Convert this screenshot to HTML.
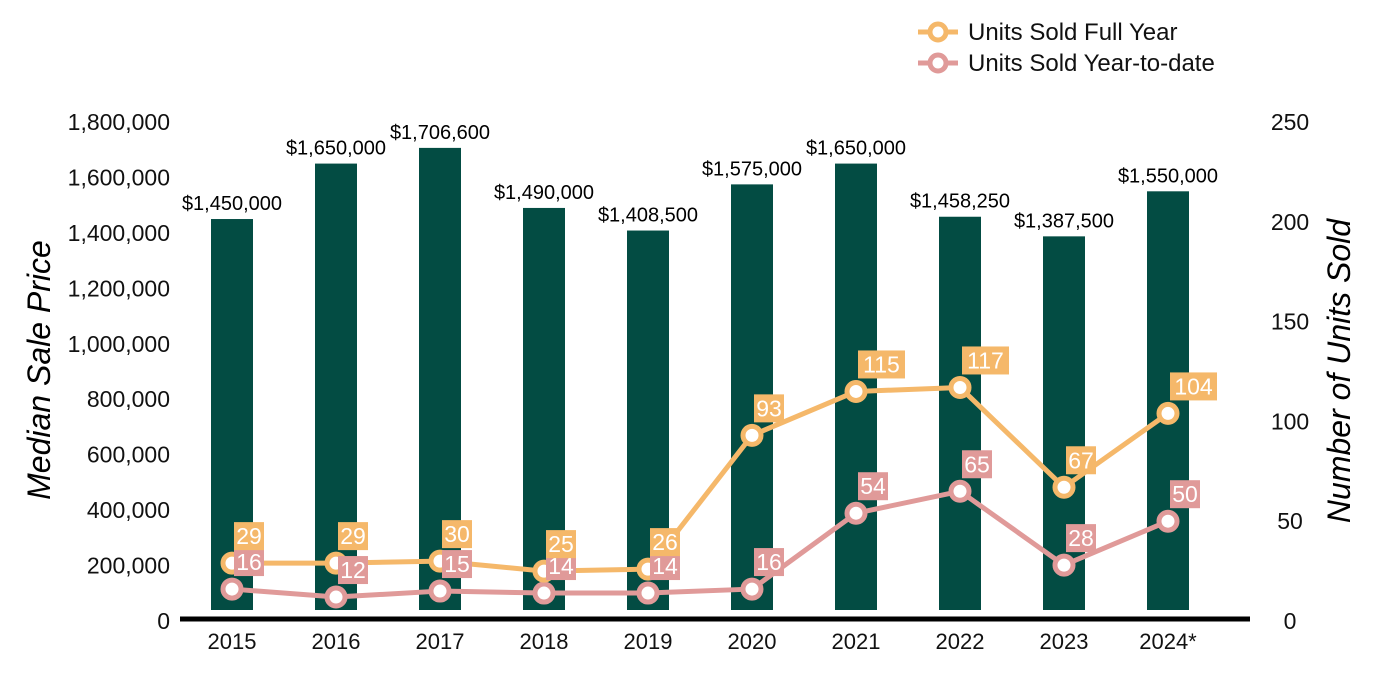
<!DOCTYPE html>
<html><head><meta charset="utf-8"><style>
html,body{margin:0;padding:0;background:#fff;}
svg{display:block;font-family:"Liberation Sans",Arial,sans-serif;}
</style></head><body>
<svg id="chart" width="1400" height="700" viewBox="0 0 1400 700"></svg>
<script>
const categories=["2015","2016","2017","2018","2019","2020","2021","2022","2023","2024*"];
const prices=[1450000,1650000,1706600,1490000,1408500,1575000,1650000,1458250,1387500,1550000];
const priceLabels=["$1,450,000","$1,650,000","$1,706,600","$1,490,000","$1,408,500","$1,575,000","$1,650,000","$1,458,250","$1,387,500","$1,550,000"];
const fullYear=[29,29,30,25,26,93,115,117,67,104];
const ytd=[16,12,15,14,14,16,54,65,28,50];
const leftTicks=[0,200000,400000,600000,800000,1000000,1200000,1400000,1600000,1800000];
const rightTicks=[0,50,100,150,200,250];

const NS="http://www.w3.org/2000/svg";
const svg=document.getElementById('chart');
const Y0=621,YT=122;
const yL=v=>Y0-(v/1800000)*(Y0-YT);
const yR=v=>Y0-(v/250)*(Y0-YT);
const xC=i=>232+i*104;
function mk(tag,attrs,parent){const e=document.createElementNS(NS,tag);for(const k in attrs)e.setAttribute(k,attrs[k]);(parent||svg).appendChild(e);return e;}
const fmt=n=>n.toLocaleString('en-US');

leftTicks.forEach(t=>{const e=mk('text',{x:170,y:yL(t)+8,'text-anchor':'end','font-size':23,fill:'#111'});


e.textContent=fmt(t);});
rightTicks.forEach(t=>{const e=mk('text',{x:1290,y:yR(t)+8,'text-anchor':'middle','font-size':23,fill:'#111'});


e.textContent=t;});
let t1=mk('text',{x:0,y:0,transform:'translate(50,370) rotate(-90)','text-anchor':'middle','font-size':32,'font-style':'italic',fill:'#000'});


t1.textContent='Median Sale Price';
let t2=mk('text',{x:0,y:0,transform:'translate(1350,371) rotate(-90)','text-anchor':'middle','font-size':32,'font-style':'italic',fill:'#000'});


t2.textContent='Number of Units Sold';

const BB=610;
prices.forEach((p,i)=>{const top=yL(p);
const r=mk('rect',{x:xC(i)-21,y:top,width:42,height:BB-top,fill:'#034C43'});


const l=mk('text',{x:xC(i),y:top-9,'text-anchor':'middle','font-size':20,fill:'#000'});


l.textContent=priceLabels[i];});
const ax=mk('line',{x1:180,x2:1250,y1:619,y2:619,stroke:'#000','stroke-width':5});


categories.forEach((c,i)=>{const e=mk('text',{x:xC(i),y:649,'text-anchor':'middle','font-size':22,fill:'#111'});


e.textContent=c;});

function series(vals,color,name){
const pts=vals.map((v,i)=>xC(i)+','+yR(v)).join(' ');
const pl=mk('polyline',{points:pts,fill:'none',stroke:color,'stroke-width':5,'stroke-linejoin':'round'});


vals.forEach((v,i)=>{const c=mk('circle',{cx:xC(i),cy:yR(v),r:9,fill:'#fff',stroke:color,'stroke-width':5});

});
return pl;}
function labels(vals,color,name){
vals.forEach((v,i)=>{const x=xC(i)+2,y=yR(v)-27;const w=String(v).length*17-4;
const b=mk('rect',{x:x,y:y-14,width:w,height:28,fill:color});


const t=mk('text',{x:x+w/2,y:y+8,'text-anchor':'middle','font-size':23,fill:'#fff'});


t.textContent=v;});}
series(ytd,'#E09A99','ytd');
series(fullYear,'#F5B86A','full-year');
labels(ytd,'#E09A99','ytd');
labels(fullYear,'#F5B86A','full-year');

[['Units Sold Full Year','#F5B86A',32],['Units Sold Year-to-date','#E09A99',63]].forEach((d,k)=>{
const g=mk('g',{});


mk('line',{x1:918,x2:958,y1:d[2],y2:d[2],stroke:d[1],'stroke-width':5},g);
mk('circle',{cx:938,cy:d[2],r:8,fill:'#fff',stroke:d[1],'stroke-width':5},g);
const t=mk('text',{x:968,y:d[2]+8,'font-size':24,fill:'#111'},g);t.textContent=d[0];});
</script>
</body></html>
